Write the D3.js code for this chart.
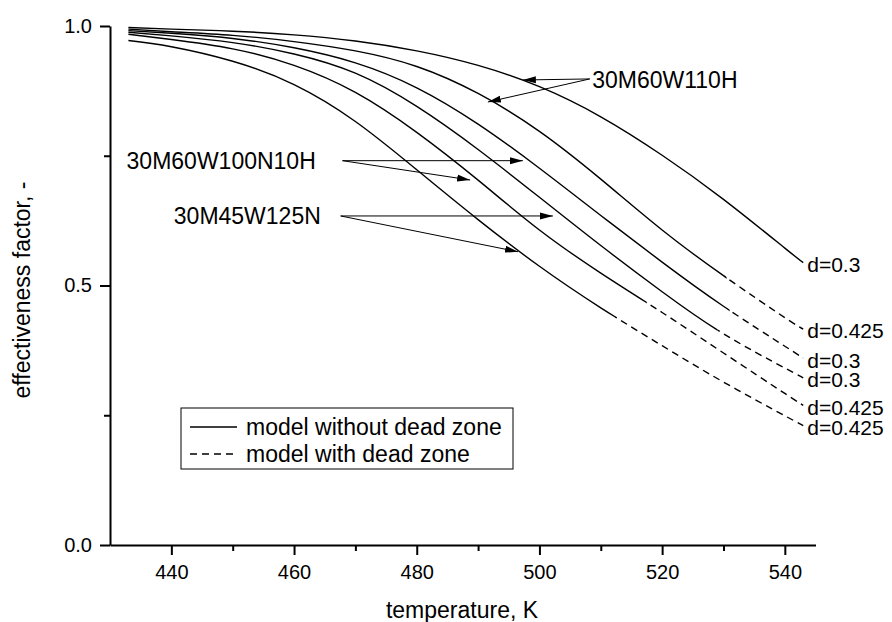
<!DOCTYPE html>
<html>
<head>
<meta charset="utf-8">
<script src="https://cdn.jsdelivr.net/npm/d3@7"></script>
<style>
  body { margin: 0; background: #fff; }
  svg { font-family: "Liberation Sans", Arial, sans-serif; }
</style>
</head>
<body>
<svg id="chart"></svg>
<script>
// temperature grid, K
const temps = [433, 440, 450, 460, 470, 480, 490, 500, 510, 520, 530, 540, 543];

// effectiveness factor for the six curves (top to bottom)
const curve1 = [0.997, 0.994, 0.990, 0.983, 0.971, 0.952, 0.924, 0.883, 0.825, 0.751, 0.666, 0.572, 0.544];
const curve2 = [0.994, 0.989, 0.982, 0.970, 0.952, 0.922, 0.870, 0.797, 0.705, 0.607, 0.519, 0.438, 0.416];
const curve3 = [0.991, 0.986, 0.976, 0.958, 0.929, 0.881, 0.811, 0.726, 0.635, 0.545, 0.460, 0.383, 0.360];
const curve4 = [0.988, 0.981, 0.968, 0.946, 0.909, 0.845, 0.762, 0.670, 0.577, 0.488, 0.407, 0.341, 0.322];
const curve5 = [0.984, 0.974, 0.956, 0.924, 0.872, 0.795, 0.703, 0.607, 0.524, 0.448, 0.370, 0.292, 0.269];
const curve6 = [0.972, 0.960, 0.932, 0.887, 0.816, 0.723, 0.627, 0.537, 0.457, 0.384, 0.314, 0.249, 0.230];
const curves = [curve1, curve2, curve3, curve4, curve5, curve6];

// temperature where the dead-zone model (dashed) takes over
const dashFrom = [null, 530.5, 531, 529, 517.5, 512.3];
const endLabels = ["d=0.3", "d=0.425", "d=0.3", "d=0.3", "d=0.425", "d=0.425"];

const xMajor = [440, 460, 480, 500, 520, 540];
const xMinor = [450, 470, 490, 510, 530];
const yMajor = [0, 0.5, 1.0];
const yMinor = [0.25, 0.75];

// annotation labels: text position and arrow tips in data units
const annotations = [
  { text: "30M60W110H", at: [508.6, 0.896], from: [508.2, 0.898], tips: [[497.3, 0.896], [491.6, 0.8536]] },
  { text: "30M60W100N10H", at: [432.7, 0.7405], from: [467.9, 0.7405], tips: [[497.3, 0.7405], [488.7, 0.7033]] },
  { text: "30M45W125N", at: [440.4, 0.634], from: [467.6, 0.634], tips: [[502.2, 0.634], [496.5, 0.565]] }
];

const width = 892;
const height = 622;

const svg = d3.select("#chart").attr("width", width).attr("height", height);

const x = d3.scaleLinear().domain([430, 545]).range([110, 815.5]);
const y = d3.scaleLinear().domain([0, 1]).range([545, 26]);

const defs = svg.append("defs");
defs.append("marker").attr("id", "arrow")
  .attr("markerUnits", "userSpaceOnUse")
  .attr("viewBox", "0 0 13 8").attr("refX", 13).attr("refY", 4)
  .attr("markerWidth", 13).attr("markerHeight", 8).attr("orient", "auto")
  .append("path").attr("d", "M0,0.5L13,4L0,7.5Z").attr("fill", "#000");

// axes
svg.append("g").attr("transform", "translate(0,545)")
  .call(d3.axisBottom(x).tickValues(xMajor).tickSize(10).tickSizeOuter(0).tickPadding(10).tickFormat(d3.format("d")));
svg.append("g").attr("class", "minor").attr("transform", "translate(0,545)")
  .call(d3.axisBottom(x).tickValues(xMinor).tickSize(6).tickFormat(""));

svg.append("g").attr("transform", "translate(110,0)")
  .call(d3.axisLeft(y).tickValues(yMajor).tickSize(10).tickSizeOuter(0).tickPadding(8).tickFormat(d3.format(".1f")));
svg.append("g").attr("class", "minor").attr("transform", "translate(110,0)")
  .call(d3.axisLeft(y).tickValues(yMinor).tickSize(6).tickFormat(""));

svg.selectAll(".minor .domain").remove();
svg.selectAll(".domain").attr("stroke-width", 2);
svg.selectAll(".tick line").attr("stroke-width", 2);
svg.selectAll(".tick text").attr("font-size", "20px").attr("font-family", "Liberation Sans, Arial, sans-serif").attr("fill", "#000");

svg.append("text").text("temperature, K")
  .attr("x", 462).attr("y", 618).attr("text-anchor", "middle").attr("font-size", "23px");
svg.append("text").text("effectiveness factor, -")
  .attr("transform", "translate(30,290) rotate(-90)").attr("text-anchor", "middle").attr("font-size", "23px");

// curves
const line = d3.line().x(d => x(d.t)).y(d => y(d.v)).curve(d3.curveNatural);

curves.forEach((vals, i) => {
  const pts = temps.map((t, k) => ({ t: t, v: vals[k] }));
  if (dashFrom[i] === null) {
    svg.append("path").attr("d", line(pts)).attr("fill", "none").attr("stroke", "#000").attr("stroke-width", 1.4);
  } else {
    const cx = x(dashFrom[i]);
    defs.append("clipPath").attr("id", "solid" + i).append("rect").attr("x", 0).attr("y", 0).attr("width", cx).attr("height", height);
    defs.append("clipPath").attr("id", "dash" + i).append("rect").attr("x", cx).attr("y", 0).attr("width", width - cx).attr("height", height);
    svg.append("path").attr("d", line(pts)).attr("fill", "none").attr("stroke", "#000").attr("stroke-width", 1.4)
      .attr("clip-path", `url(#solid${i})`);
    svg.append("path").attr("d", line(pts)).attr("fill", "none").attr("stroke", "#000").attr("stroke-width", 1.4)
      .attr("stroke-dasharray", "7,5").attr("clip-path", `url(#dash${i})`);
  }
  const last = pts[pts.length - 1];
  svg.append("text").text(endLabels[i])
    .attr("x", x(last.t) + 4).attr("y", y(last.v) + 2).attr("dy", "0.35em").attr("font-size", "21px");
});

// annotations with arrows
annotations.forEach(a => {
  svg.append("text").text(a.text)
    .attr("x", x(a.at[0])).attr("y", y(a.at[1])).attr("dy", "0.35em").attr("font-size", "23px");
  a.tips.forEach(tp => {
    svg.append("line")
      .attr("x1", x(a.from[0])).attr("y1", y(a.from[1]))
      .attr("x2", x(tp[0])).attr("y2", y(tp[1]))
      .attr("stroke", "#000").attr("stroke-width", 1).attr("marker-end", "url(#arrow)");
  });
});

// legend
const legend = svg.append("g").attr("transform", "translate(181,408)");
legend.append("rect").attr("width", 332).attr("height", 61).attr("fill", "#fff").attr("stroke", "#000").attr("stroke-width", 1);
const legendItems = [
  { label: "model without dead zone", dash: null },
  { label: "model with dead zone", dash: "7,5" }
];
legendItems.forEach((d, i) => {
  const ly = 19 + i * 27;
  legend.append("line").attr("x1", 9).attr("x2", 56).attr("y1", ly).attr("y2", ly)
    .attr("stroke", "#000").attr("stroke-width", 1.4).attr("stroke-dasharray", d.dash);
  legend.append("text").text(d.label).attr("x", 65).attr("y", ly).attr("dy", "0.35em").attr("font-size", "23px");
});
</script>
</body>
</html>
